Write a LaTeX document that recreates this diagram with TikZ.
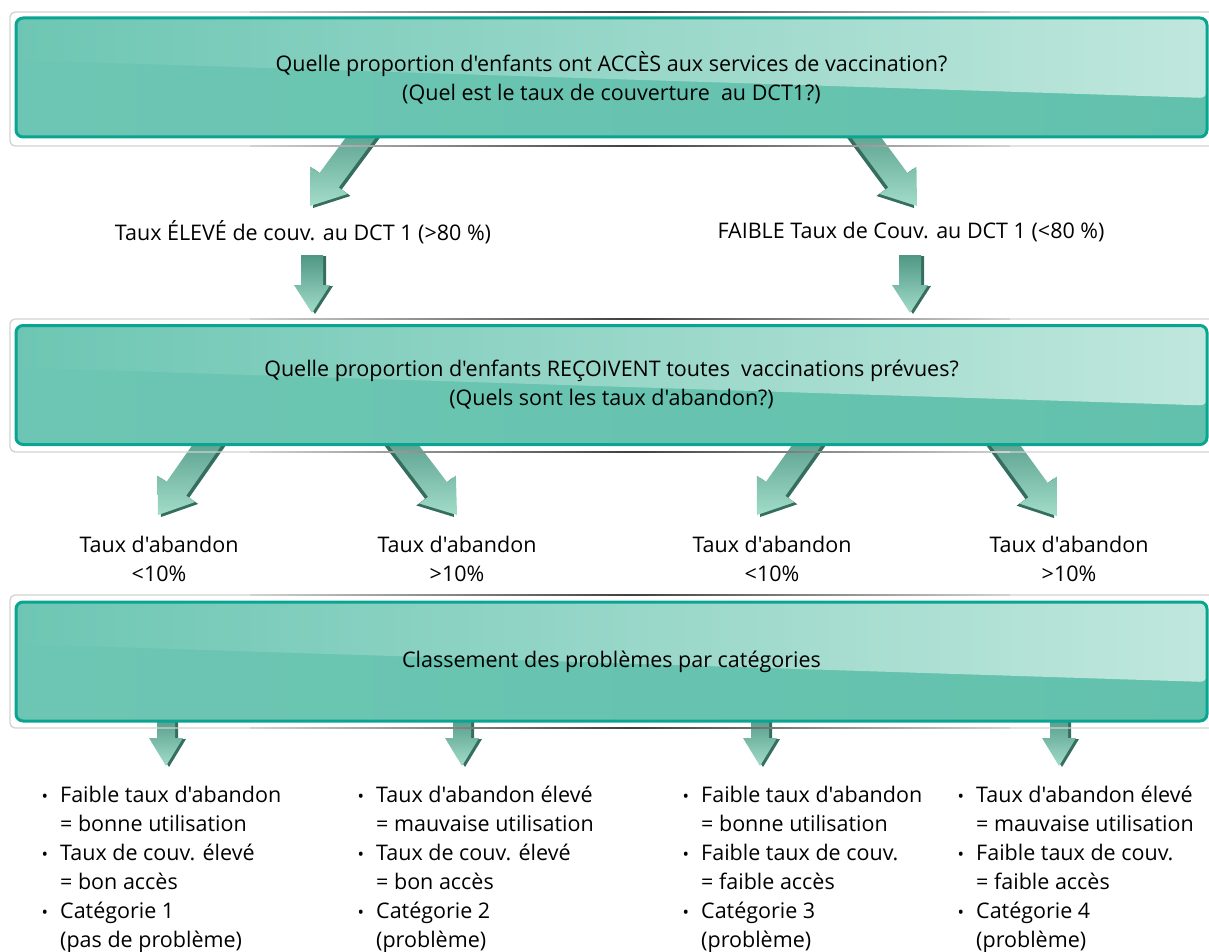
\documentclass[tikz,border=0pt]{standalone}
\usepackage{fontspec}
\usepackage{graphicx}
\setmainfont{Open Sans}[Ligatures=TeXOff]
\usetikzlibrary{calc}
\definecolor{tealb}{HTML}{0AA592}
\definecolor{bgL}{HTML}{6DC6B3}
\definecolor{bgM}{HTML}{86D0C0}
\definecolor{bgR}{HTML}{62C1AC}
\definecolor{hlR}{HTML}{C0E7DD}
\definecolor{framec}{HTML}{D2D2D2}
\definecolor{arrtop}{HTML}{4F9784}
\definecolor{arrbot}{HTML}{A2DDC9}
\definecolor{arrside}{HTML}{356E5F}
\newcommand\btext{\fontsize{21.5}{29}\selectfont}
\newcommand\bul{\makebox[0pt][r]{\scalebox{0.8}{\textbullet}\hspace{12pt}}}
% block arrow: start, tip, half shaft, half head, head length, side shift
\newcommand\blockarr[6]{%
 \coordinate (#1h) at ($(#2)!#5!(#1)$);
 \coordinate (#1p1) at ($(#1)!#3!90:(#2)$);
 \coordinate (#1p2) at ($(#1h)!#3!90:(#2)$);
 \coordinate (#1p3) at ($(#1h)!#4!90:(#2)$);
 \coordinate (#1p4) at ($(#1h)!#4!-90:(#2)$);
 \coordinate (#1p5) at ($(#1h)!#3!-90:(#2)$);
 \coordinate (#1p6) at ($(#1)!#3!-90:(#2)$);
 \fill[arrside, transform canvas={shift={#6}}] (#1p1)--(#1p2)--(#1p3)--(#2)--(#1p4)--(#1p5)--(#1p6)--cycle;
 \shade[top color=arrtop, bottom color=arrbot] (#1p1)--(#1p2)--(#1p3)--(#2)--(#1p4)--(#1p5)--(#1p6)--cycle;
}
\tikzset{
 bannerbox/.style={draw=tealb, line width=3pt, rounded corners=7pt,
   minimum width=1191pt, minimum height=119pt, inner sep=0pt, align=center, font=\btext,
   path picture={
     \shade[left color=bgL, middle color=bgM, right color=bgR]
       (path picture bounding box.south west) rectangle (path picture bounding box.north east);
     \shade[left color=bgL, middle color=bgM!80!white, right color=hlR]
       (path picture bounding box.north west) -- (path picture bounding box.north east)
       -- ([yshift=-80pt]path picture bounding box.north east)
       -- ([yshift=-42pt]path picture bounding box.north west) -- cycle;
   }},
 outerframe/.style={draw=framec, line width=1.3pt, rounded corners=5pt},
 lbl/.style={font=\btext, align=center, inner sep=0pt},
 listtxt/.style={font=\btext, align=left, inner sep=0pt, anchor=north west},
}
\newcommand\darkline[1]{%
 \shade[left color=framec, right color=black!75] (250,#1-0.65) rectangle (630,#1+0.65);
 \shade[left color=black!75, right color=framec] (630,#1-0.65) rectangle (1010,#1+0.65);
}
\begin{document}
\begin{tikzpicture}[x=1pt,y=-1pt]
\useasboundingbox (0,0) rectangle (1209,952);
% arrow end points
\coordinate (a1s) at (370,125); \coordinate (a1t) at (310,206);
\coordinate (a2s) at (857,125); \coordinate (a2t) at (917,206);
\coordinate (v1s) at (312,255); \coordinate (v1t) at (312,313);
\coordinate (v2s) at (910,255); \coordinate (v2t) at (910,313);
\coordinate (b1s) at (214,435); \coordinate (b1t) at (158,515);
\coordinate (b2s) at (396,435); \coordinate (b2t) at (457,515);
\coordinate (b3s) at (814,435); \coordinate (b3t) at (757,515);
\coordinate (b4s) at (998,435); \coordinate (b4t) at (1057,516);
\coordinate (c1s) at (166,715); \coordinate (c1t) at (166,766);
\coordinate (c2s) at (462,715); \coordinate (c2t) at (462,766);
\coordinate (c3s) at (760,715); \coordinate (c3t) at (760,766);
\coordinate (c4s) at (1059,715); \coordinate (c4t) at (1059,766);
% arrows
\blockarr{a1s}{a1t}{12pt}{23pt}{32pt}{(3pt,-2pt)}
\blockarr{a2s}{a2t}{12pt}{23pt}{32pt}{(-3pt,-2pt)}
\blockarr{v1s}{v1t}{11pt}{18pt}{28pt}{(3pt,-1pt)}
\blockarr{v2s}{v2t}{11pt}{18pt}{28pt}{(3pt,-1pt)}
\blockarr{b1s}{b1t}{12pt}{23pt}{32pt}{(3pt,-2pt)}
\blockarr{b2s}{b2t}{12pt}{23pt}{32pt}{(-3pt,-2pt)}
\blockarr{b3s}{b3t}{12pt}{23pt}{32pt}{(3pt,-2pt)}
\blockarr{b4s}{b4t}{12pt}{23pt}{32pt}{(-3pt,-2pt)}
\blockarr{c1s}{c1t}{9pt}{17pt}{28pt}{(3pt,-1pt)}
\blockarr{c2s}{c2t}{9pt}{17pt}{28pt}{(3pt,-1pt)}
\blockarr{c3s}{c3t}{9pt}{17pt}{28pt}{(3pt,-1pt)}
\blockarr{c4s}{c4t}{9pt}{17pt}{28pt}{(3pt,-1pt)}
% outer frames
\draw[outerframe] (10,12) rectangle (1216,146);
\draw[outerframe] (10,319) rectangle (1216,452);
\draw[outerframe] (10,595) rectangle (1216,728);
\darkline{12}\darkline{146}
\darkline{319}\darkline{452}
\darkline{595}\darkline{728}
% banners
\node[bannerbox] (b1) at (611.5,77.5) {Quelle proportion d'enfants ont ACCÈS aux services de vaccination?\\(Quel est le taux de couverture\ \ au DCT1?)};
\node[bannerbox] (b2) at (611.5,385) {Quelle proportion d'enfants REÇOIVENT toutes\ \ vaccinations prévues?\\(Quels sont les taux d'abandon?)};
\node[bannerbox] (b3) at (611.5,661.5) {Classement des problèmes par catégories};
% level 1 labels
\node[lbl] (l1) at (303,232) {Taux ÉLEVÉ de couv. au DCT 1 (>80 \%)};
\node[lbl] (l2) at (911,232) {FAIBLE Taux de Couv. au DCT 1 (<80 \%)};
% level 2 labels
\node[lbl] (t1) at (159,559) {Taux d'abandon\\<10\%};
\node[lbl] (t2) at (457,559) {Taux d'abandon\\>10\%};
\node[lbl] (t3) at (772,559) {Taux d'abandon\\<10\%};
\node[lbl] (t4) at (1069,559) {Taux d'abandon\\>10\%};
% lists
\node[listtxt] (k1) at (60,786) {\bul Faible taux d'abandon\\= bonne utilisation\\\bul Taux de couv. élevé\\= bon accès\\\bul Catégorie 1\\(pas de problème)};
\node[listtxt] (k2) at (376,786) {\bul Taux d'abandon élevé\\= mauvaise utilisation\\\bul Taux de couv. élevé\\= bon accès\\\bul Catégorie 2\\(problème)};
\node[listtxt] (k3) at (701,786) {\bul Faible taux d'abandon\\= bonne utilisation\\\bul Faible taux de couv.\\= faible accès\\\bul Catégorie 3\\(problème)};
\node[listtxt] (k4) at (976,786) {\bul Taux d'abandon élevé\\= mauvaise utilisation\\\bul Faible taux de couv.\\= faible accès\\\bul Catégorie 4\\(problème)};
\end{tikzpicture}
\end{document}
